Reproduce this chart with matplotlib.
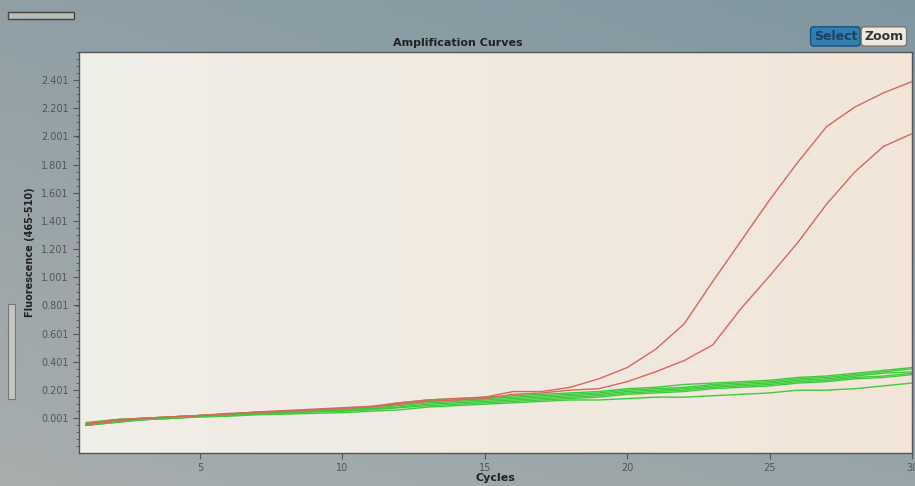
import numpy as np
import matplotlib.pyplot as plt
from matplotlib.ticker import FixedLocator, MultipleLocator
from matplotlib.patches import FancyBboxPatch

cycles = list(range(1, 31))

# red = positive samples, green = negative/background
red_upper = [-0.04, -0.01, 0.00, 0.01, 0.02, 0.03, 0.045, 0.055, 0.065, 0.075,
             0.085, 0.11, 0.13, 0.14, 0.15, 0.19, 0.19, 0.22, 0.28, 0.36,
             0.49, 0.67, 0.97, 1.26, 1.55, 1.82, 2.07, 2.21, 2.31, 2.39]
red_lower = [-0.05, -0.02, 0.00, 0.01, 0.02, 0.035, 0.04, 0.05, 0.06, 0.07,
             0.08, 0.10, 0.12, 0.13, 0.14, 0.17, 0.18, 0.20, 0.21, 0.26,
             0.33, 0.41, 0.52, 0.78, 1.01, 1.25, 1.52, 1.75, 1.93, 2.02]
greens = [
    [-0.03, -0.01, 0.00, 0.01, 0.02, 0.03, 0.04, 0.05, 0.06, 0.07,
     0.08, 0.11, 0.13, 0.14, 0.15, 0.16, 0.17, 0.18, 0.19, 0.21,
     0.22, 0.24, 0.25, 0.26, 0.27, 0.29, 0.30, 0.32, 0.34, 0.36],
    [-0.04, -0.01, 0.00, 0.01, 0.02, 0.03, 0.045, 0.05, 0.06, 0.065,
     0.08, 0.10, 0.12, 0.13, 0.14, 0.15, 0.16, 0.17, 0.18, 0.20,
     0.21, 0.22, 0.24, 0.25, 0.26, 0.28, 0.29, 0.31, 0.33, 0.35],
    [-0.05, -0.02, -0.01, 0.01, 0.02, 0.025, 0.04, 0.045, 0.055, 0.06,
     0.07, 0.09, 0.11, 0.12, 0.13, 0.14, 0.15, 0.16, 0.17, 0.19,
     0.20, 0.21, 0.23, 0.24, 0.25, 0.27, 0.28, 0.30, 0.32, 0.33],
    [-0.04, -0.02, -0.01, 0.00, 0.015, 0.02, 0.035, 0.04, 0.05, 0.055,
     0.065, 0.08, 0.10, 0.11, 0.12, 0.13, 0.14, 0.15, 0.16, 0.18,
     0.19, 0.20, 0.22, 0.23, 0.24, 0.26, 0.27, 0.29, 0.30, 0.32],
    [-0.05, -0.03, -0.01, 0.00, 0.01, 0.02, 0.03, 0.035, 0.045, 0.05,
     0.06, 0.075, 0.09, 0.10, 0.11, 0.12, 0.13, 0.14, 0.15, 0.17,
     0.18, 0.19, 0.21, 0.22, 0.23, 0.25, 0.26, 0.28, 0.29, 0.31],
    [-0.05, -0.03, -0.01, 0.00, 0.01, 0.015, 0.025, 0.03, 0.035, 0.04,
     0.05, 0.06, 0.08, 0.09, 0.10, 0.11, 0.12, 0.13, 0.13, 0.14,
     0.15, 0.15, 0.16, 0.17, 0.18, 0.20, 0.20, 0.21, 0.23, 0.25],
]
y_ticks = [0.001, 0.201, 0.401, 0.601, 0.801, 1.001, 1.201, 1.401,
           1.601, 1.801, 2.001, 2.201, 2.401]
x_ticks = [5, 10, 15, 20, 25, 30]

narrow = ['Liberation Sans Narrow', 'DejaVu Sans']

fig = plt.figure(figsize=(9.15, 4.86), dpi=100)

# screen background gradient
bg = fig.add_axes([0, 0, 1, 1], zorder=-10)
gx, gy = np.meshgrid(np.linspace(0, 1, 200), np.linspace(0, 1, 100))
top_col = np.array([0.50, 0.59, 0.63])
low_col = np.array([0.66, 0.68, 0.68])
mix = np.clip(0.6 * gy + 0.4 * gx, 0, 1)[..., None]
bg.imshow(low_col * (1 - mix) + top_col * mix, aspect='auto', origin='lower',
          extent=[0, 1, 0, 1])
bg.set_axis_off()

ax = fig.add_axes([0.0863, 0.068, 0.9104, 0.825])
pa = np.linspace(0, 1, 200)[None, :, None]
left_c = np.array([0.94, 0.935, 0.91])
right_c = np.array([0.95, 0.90, 0.85])
ax.imshow(left_c * (1 - pa) + right_c * pa, aspect='auto',
          extent=[0.75, 30, -0.246, 2.6], zorder=0)

for g in greens:
    ax.plot(cycles, g, color='#3ccc3c', lw=1.0, zorder=2)
ax.plot(cycles, red_upper, color='#d9675c', lw=1.0, zorder=3)
ax.plot(cycles, red_lower, color='#d9675c', lw=1.0, zorder=3)

ax.set_xlim(0.75, 30)
ax.set_ylim(-0.246, 2.6)
ax.xaxis.set_major_locator(FixedLocator(x_ticks))
ax.yaxis.set_major_locator(FixedLocator(y_ticks))
ax.yaxis.set_minor_locator(MultipleLocator(0.05))
ax.set_yticklabels([f'{v:.3f}' for v in y_ticks])
ax.tick_params(axis='both', labelsize=7, colors='#555555', length=4, width=0.8)
ax.tick_params(axis='y', which='minor', length=2, colors='#555555')
for lab in ax.get_xticklabels() + ax.get_yticklabels():
    lab.set_family(narrow)
for s in ax.spines.values():
    s.set_color('#555555')
    s.set_linewidth(1.0)

ax.set_xlabel('Cycles', fontsize=8, fontweight='bold', family=narrow,
              color='#222222', labelpad=0)
ax.set_ylabel('Fluorescence (465-510)', fontsize=7, fontweight='bold',
              family=narrow, color='#222222', labelpad=4)

fig.text(0.50, 0.912, 'Amplification Curves', ha='center', va='center',
         fontsize=8, fontweight='bold', family=narrow, color='#222222')

# Select / Zoom buttons
fig.text(0.913, 0.925, 'Select', ha='center', va='center', fontsize=9,
         fontweight='bold', family=narrow, color='#1e3f66',
         bbox=dict(boxstyle='round,pad=0.25', fc='#2f7fb0', ec='#1e4f78'))
fig.text(0.966, 0.925, 'Zoom', ha='center', va='center', fontsize=9,
         fontweight='bold', family=narrow, color='#333333',
         bbox=dict(boxstyle='round,pad=0.25', fc='#efe8dc', ec='#777777'))

# small slider widgets
fig.patches.append(FancyBboxPatch((0.009, 0.96), 0.072, 0.016,
                                  boxstyle='square,pad=0', fc='#b8bcb8',
                                  ec='#444444', lw=1, transform=fig.transFigure))
fig.patches.append(FancyBboxPatch((0.009, 0.18), 0.007, 0.195,
                                  boxstyle='square,pad=0', fc='#c2c6c2',
                                  ec='#777777', lw=0.8, transform=fig.transFigure))

fig.savefig('out.png', dpi=100)
